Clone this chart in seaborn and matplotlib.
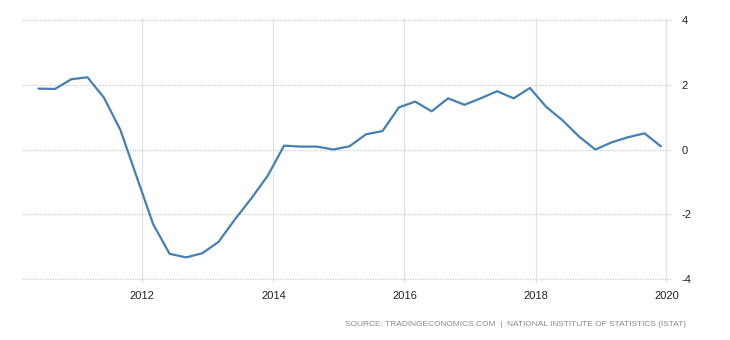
import matplotlib
matplotlib.use("Agg")
import matplotlib.pyplot as plt
import seaborn as sns
import pandas as pd

# Italy GDP annual growth rate (%), quarterly, Q2 2010 - Q4 2019
quarters = pd.date_range("2010-06-01", "2019-12-01", freq="3MS")
growth = [1.88, 1.87, 2.17, 2.23, 1.6, 0.6, -0.85, -2.3, -3.22, -3.33,
          -3.2, -2.85, -2.15, -1.5, -0.8, 0.12, 0.09, 0.09, 0.0, 0.1,
          0.47, 0.57, 1.3, 1.48, 1.18, 1.58, 1.38, 1.58, 1.8, 1.58,
          1.9, 1.32, 0.9, 0.4, 0.0, 0.22, 0.38, 0.5, 0.1]
y_ticks = [-4, -2, 0, 2, 4]
x_years = [2012, 2014, 2016, 2018, 2020]
source = "SOURCE: TRADINGECONOMICS.COM  |  NATIONAL INSTITUTE OF STATISTICS (ISTAT)"

df = pd.DataFrame({"date": quarters, "value": growth})

sns.set_theme(style="white")
plt.rcParams["font.family"] = ["Liberation Sans", "DejaVu Sans"]

fig = plt.figure(figsize=(7.3, 3.4), dpi=100)
ax = fig.add_axes([22 / 730, 1 - 283 / 340, (672 - 22) / 730, (283 - 18) / 340])

sns.lineplot(data=df, x="date", y="value", ax=ax, color="#4480b3", linewidth=1.6)
for ln in ax.lines:
    ln.set_solid_joinstyle("round")
    ln.set_solid_capstyle("round")

ax.set_xlim(pd.Timestamp("2010-03-01"), pd.Timestamp("2020-02-01"))
ax.set_ylim(-4.12, 4.06)

ax.set_yticks(y_ticks)
ax.set_yticklabels([str(v) for v in y_ticks])
ax.yaxis.tick_right()
ax.set_xticks([pd.Timestamp(f"{y}-01-01") for y in x_years])
ax.set_xticklabels([str(y) for y in x_years])

ax.tick_params(axis="both", length=0, labelsize=8, colors="#222222")
ax.tick_params(axis="y", pad=7)
ax.tick_params(axis="x", pad=6)

ax.grid(axis="y", color="#cfcfcf", linestyle=(0, (1, 1)), linewidth=0.9)
ax.grid(axis="x", color="#e3e3e3", linestyle="-", linewidth=0.9)

for s in ax.spines.values():
    s.set_visible(False)

ax.set_xlabel("")
ax.set_ylabel("")

fig.text(686 / 730, 1 - 325 / 340, source, ha="right", va="center",
         fontsize=6.0, color="#8a8a8a")

fig.savefig("out.png", dpi=100)
